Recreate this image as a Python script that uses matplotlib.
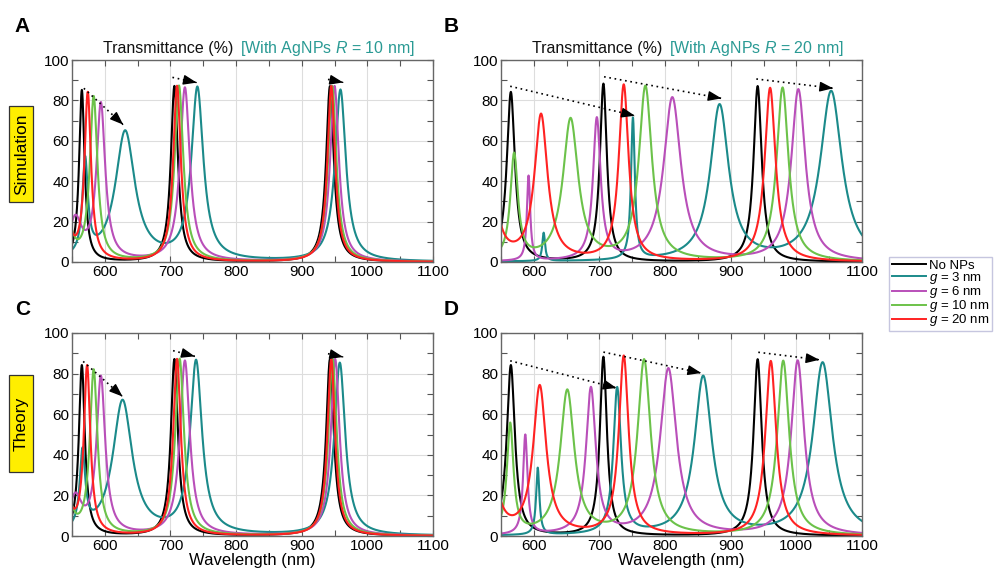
import numpy as np
import matplotlib
matplotlib.use('Agg')
import matplotlib.pyplot as plt
from matplotlib.ticker import MultipleLocator
from matplotlib.lines import Line2D
from matplotlib.patches import Rectangle

plt.rcParams['font.family'] = ['Liberation Sans', 'DejaVu Sans']
plt.rcParams['mathtext.fontset'] = 'custom'
plt.rcParams['mathtext.rm'] = 'Liberation Sans'
plt.rcParams['mathtext.it'] = 'Liberation Sans:italic'

# peaks: (centre nm, height %, half width nm)
# A - simulation, R = 10 nm
a_black = [(565, 85, 5), (706, 87, 6.5), (943, 87, 7)]
a_g3 = [(570, 47, 5), (631, 64, 18), (741, 85, 11), (959, 85, 10)]
a_g6 = [(555, 20, 12), (594, 77, 8), (722, 86, 9), (950, 87, 8)]
a_g10 = [(545, 16, 9), (583, 81, 7), (713, 87, 8), (946.5, 87, 7.5)]
a_g20 = [(545, 14, 8), (574, 83, 6), (710, 87, 7), (945, 87, 7)]
# B - simulation, R = 20 nm
b_black = [(565, 84, 7.5), (706, 88, 6.5), (941, 87, 7.5)]
b_g3 = [(615, 14, 2.5), (751, 70, 3.5), (883, 77, 17), (1053, 84, 20)]
b_g6 = [(592, 42, 3), (696, 70, 7), (811, 81, 16), (1003, 85, 13)]
b_g10 = [(570, 52, 7), (656, 70, 14), (770, 86, 12), (979, 86, 11)]
b_g20 = [(535, 40, 12), (611, 72, 12), (737, 87, 9), (960, 86, 10)]
# C - theory, R = 10 nm
c_black = [(565, 84, 5.5), (706, 87, 6.5), (943, 87, 7)]
c_g3 = [(566, 38, 5), (627, 66, 18), (739, 85, 11), (958, 85, 10)]
c_g6 = [(555, 18, 12), (594, 77, 8), (722, 86, 9), (951, 87, 8)]
c_g10 = [(545, 15, 9), (583, 81, 7), (714, 87, 8), (947, 87, 7.5)]
c_g20 = [(545, 13, 8), (573, 83, 6), (710, 87, 7), (945, 87, 7)]
# D - theory, R = 20 nm
d_black = [(565, 84, 7.5), (706, 88, 6.5), (941, 87, 7.5)]
d_g3 = [(606, 33, 3), (727, 72, 7), (858, 78, 16), (1040, 85, 18)]
d_g6 = [(587, 49, 4), (687, 72, 9), (805, 82, 15), (1002, 86, 12)]
d_g10 = [(564, 54, 6), (651, 71, 13), (768, 86, 12), (980, 86, 11)]
d_g20 = [(535, 36, 12), (609, 73, 12), (737, 88, 9), (961, 86, 10)]

# dotted shift arrows: (x0, y0, x1, y1)
a_arrows = [(568, 86, 628, 68), (703, 91.4, 740, 88.8), (940, 90.4, 963, 88.9)]
b_arrows = [(564, 87, 754, 72.4), (707, 91.7, 886, 81), (939, 90.6, 1056, 86)]
c_arrows = [(567, 86, 627, 68.7), (704, 91.3, 737, 88.5), (940, 89.8, 963, 88.2)]
d_arrows = [(564, 86.3, 726, 72.9), (706, 90.6, 855, 80.3), (942, 90.5, 1035, 86.8)]

labels = ['No NPs', '$g$ = 3 nm', '$g$ = 6 nm', '$g$ = 10 nm', '$g$ = 20 nm']
colors = ['#000000', '#1b8a8a', '#b94fb9', '#6cc24a', '#ff2222']
teal = '#2a9a94'

wl = np.linspace(550, 1100, 2201)


def spectrum(peaks):
    t = np.zeros_like(wl)
    for c, h, w in peaks:
        t += h / (1 + ((wl - c) / w) ** 2)
    return np.clip(t, 0, 100)


def panel(ax, curves, arrows, letter, radius=None, xlabel=False):
    for peaks, col in zip(curves, colors):
        ax.plot(wl, spectrum(peaks), color=col, lw=1.5)
    for x0, y0, x1, y1 in arrows:
        ax.plot([x0, x1], [y0, y1], color='k', lw=1.2, ls=(0, (1, 2.2)))
        # solid head only
        ax.annotate('', xy=(x1, y1), xytext=(x1 - (x1 - x0) * 0.02, y1 - (y1 - y0) * 0.02),
                    arrowprops=dict(arrowstyle='-|>,head_length=0.8,head_width=0.3',
                                    color='k', lw=1.0, shrinkA=0, shrinkB=0))
    ax.set_xlim(550, 1100)
    ax.set_ylim(0, 100)
    ax.xaxis.set_major_locator(MultipleLocator(100))
    ax.xaxis.set_minor_locator(MultipleLocator(50))
    ax.yaxis.set_major_locator(MultipleLocator(20))
    ax.yaxis.set_minor_locator(MultipleLocator(10))
    ax.tick_params(which='both', direction='in', top=True, right=True,
                   length=4, width=0.8, color='#555555', labelsize=11, pad=2)
    ax.grid(True, which='major', color='#dddddd', lw=0.8)
    ax.set_axisbelow(True)
    for s in ax.spines.values():
        s.set_color('#666666')
        s.set_linewidth(1.0)
    if xlabel:
        ax.set_xlabel('Wavelength (nm)', fontsize=12, labelpad=0)
    if radius is not None:
        ax.text(0.446, 1.035, 'Transmittance (%)', transform=ax.transAxes,
                ha='right', va='baseline', fontsize=11.5, color='#111111')
        ax.text(0.465, 1.035, '[With AgNPs $R$ = %d nm]' % radius,
                transform=ax.transAxes, ha='left', va='baseline',
                fontsize=11.5, color=teal)
    ax.text(-0.158, 1.139 if radius is not None else 1.089, letter,
            transform=ax.transAxes, fontsize=15, fontweight='bold',
            ha='left', va='baseline')


fig = plt.figure(figsize=(9.95, 5.77), dpi=100)
W, H = 995.0, 577.0
ax_a = fig.add_axes([72 / W, 1 - 262 / H, 361 / W, 202 / H])
ax_b = fig.add_axes([501 / W, 1 - 262 / H, 361 / W, 202 / H])
ax_c = fig.add_axes([72 / W, 1 - 536 / H, 361 / W, 203 / H])
ax_d = fig.add_axes([501 / W, 1 - 536 / H, 361 / W, 203 / H])

panel(ax_a, [a_black, a_g3, a_g6, a_g10, a_g20], a_arrows, 'A', radius=10)
panel(ax_b, [b_black, b_g3, b_g6, b_g10, b_g20], b_arrows, 'B', radius=20)
panel(ax_c, [c_black, c_g3, c_g6, c_g10, c_g20], c_arrows, 'C', xlabel=True)
panel(ax_d, [d_black, d_g3, d_g6, d_g10, d_g20], d_arrows, 'D', xlabel=True)

# yellow row labels
for txt, y0, y1 in [('Simulation', 106, 202), ('Theory', 375, 472)]:
    fig.patches.append(Rectangle((9 / W, 1 - y1 / H), 24 / W, (y1 - y0) / H,
                                 transform=fig.transFigure, fc='#ffee00',
                                 ec='#333333', lw=0.9))
    fig.text(21.5 / W, 1 - (y0 + y1) / 2 / H, txt, rotation=90, ha='center',
             va='center', fontsize=12.5)

handles = [Line2D([], [], color=c, lw=1.4) for c in colors]
fig.legend(handles, labels, loc='upper left', bbox_to_anchor=(889 / W, 1 - 257 / H),
           frameon=True, fancybox=False, edgecolor='#b8b8d8', borderpad=0.2,
           handlelength=2.6, handletextpad=0.2, labelspacing=-0.14, fontsize=9.5,
           borderaxespad=0)

fig.savefig('out.png', dpi=100)
